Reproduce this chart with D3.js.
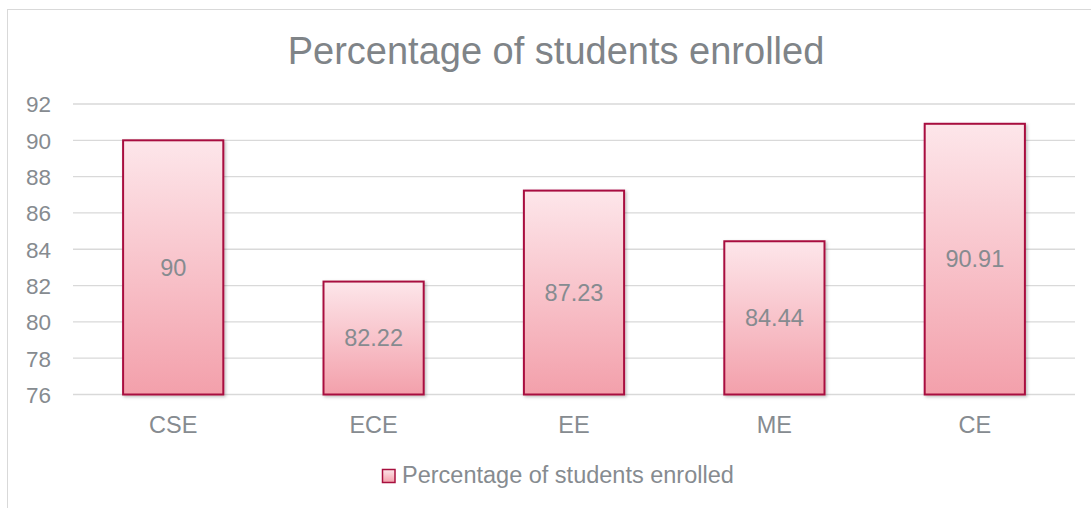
<!DOCTYPE html>
<html>
<head>
<meta charset="utf-8">
<script src="https://cdn.jsdelivr.net/npm/d3@7"></script>
<style>
body { margin: 0; background: #fff; }
text { font-family: "Liberation Sans", Arial, sans-serif; fill: #868b90; }
</style>
</head>
<body>
<div id="chart"></div>
<script>
var departments = ["CSE", "ECE", "EE", "ME", "CE"];
var enrolled = [90, 82.22, 87.23, 84.44, 90.91];
var yTicks = [76, 78, 80, 82, 84, 86, 88, 90, 92];
var seriesName = "Percentage of students enrolled";

var W = 1091, H = 508;
var svg = d3.select("#chart").append("svg").attr("width", W).attr("height", H);

var defs = svg.append("defs");
var grad = defs.append("linearGradient").attr("id", "barGrad")
	.attr("x1", 0).attr("y1", 0).attr("x2", 0).attr("y2", 1);
grad.append("stop").attr("offset", "0%").attr("stop-color", "#fde6ea");
grad.append("stop").attr("offset", "100%").attr("stop-color", "#f3a0ab");

var shadow = defs.append("filter").attr("id", "shadow")
	.attr("x", "-10%").attr("y", "-10%").attr("width", "130%").attr("height", "120%");
shadow.append("feDropShadow").attr("dx", 1.5).attr("dy", 1.5).attr("stdDeviation", 1.5)
	.attr("flood-color", "#000").attr("flood-opacity", 0.25);

// chart frame (runs past the right and bottom edges)
svg.append("rect").attr("x", 7.5).attr("y", 9.5).attr("width", 1100).attr("height", 520)
	.attr("fill", "none").attr("stroke", "#d9d9d9").attr("stroke-width", 1);

svg.append("text").attr("x", 556).attr("y", 64)
	.attr("text-anchor", "middle").style("font-size", "38px").style("fill", "#7f8488")
	.text(seriesName);

var x = d3.scaleBand().domain(departments).range([73, 1075]).paddingInner(0.5).paddingOuter(0.25);
var y = d3.scaleLinear().domain([76, 92]).range([394.5, 104]);

// gridlines
svg.append("g").selectAll("line").data(yTicks).join("line")
	.attr("x1", 73).attr("x2", 1075)
	.attr("y1", d => y(d)).attr("y2", d => y(d))
	.attr("stroke", "#d9d9d9").attr("stroke-width", 1.3);

// y axis labels
var yAxis = d3.axisLeft(y).tickValues(yTicks).tickSize(0).tickPadding(0);
var gy = svg.append("g").attr("transform", "translate(51,0)").call(yAxis);
gy.select(".domain").remove();
gy.selectAll("text").style("font-size", "22.5px").style("font-family", null).attr("fill", null).attr("dy", "0.35em");

// x axis labels
var xAxis = d3.axisBottom(x).tickSize(0).tickPadding(0);
var gx = svg.append("g").attr("transform", "translate(0,433)").call(xAxis);
gx.select(".domain").remove();
gx.selectAll("text").style("font-size", "23.5px").style("font-family", null).attr("fill", null).attr("dy", null).attr("y", 0);

// bars
svg.append("g").selectAll("rect").data(departments).join("rect")
	.attr("x", d => x(d))
	.attr("width", x.bandwidth())
	.attr("y", (d, i) => y(enrolled[i]))
	.attr("height", (d, i) => y(76) - y(enrolled[i]))
	.attr("fill", "url(#barGrad)")
	.attr("stroke", "#a8103f").attr("stroke-width", 2)
	.attr("filter", "url(#shadow)");

// data labels, centred inside the bars
svg.append("g").selectAll("text").data(departments).join("text")
	.attr("x", d => x(d) + x.bandwidth() / 2)
	.attr("y", (d, i) => (y(enrolled[i]) + y(76)) / 2)
	.attr("dy", "0.35em")
	.attr("text-anchor", "middle")
	.style("font-size", "23.5px")
	.text((d, i) => enrolled[i]);

// legend
var lg = svg.append("g").attr("transform", "translate(382,469)");
lg.append("rect").attr("x", 0.5).attr("y", 0.5).attr("width", 12.5).attr("height", 13)
	.attr("fill", "url(#barGrad)").attr("stroke", "#a8103f").attr("stroke-width", 1.5);
lg.append("text").attr("x", 20).attr("y", 14)
	.style("font-size", "23.5px").text(seriesName);
</script>
</body>
</html>
